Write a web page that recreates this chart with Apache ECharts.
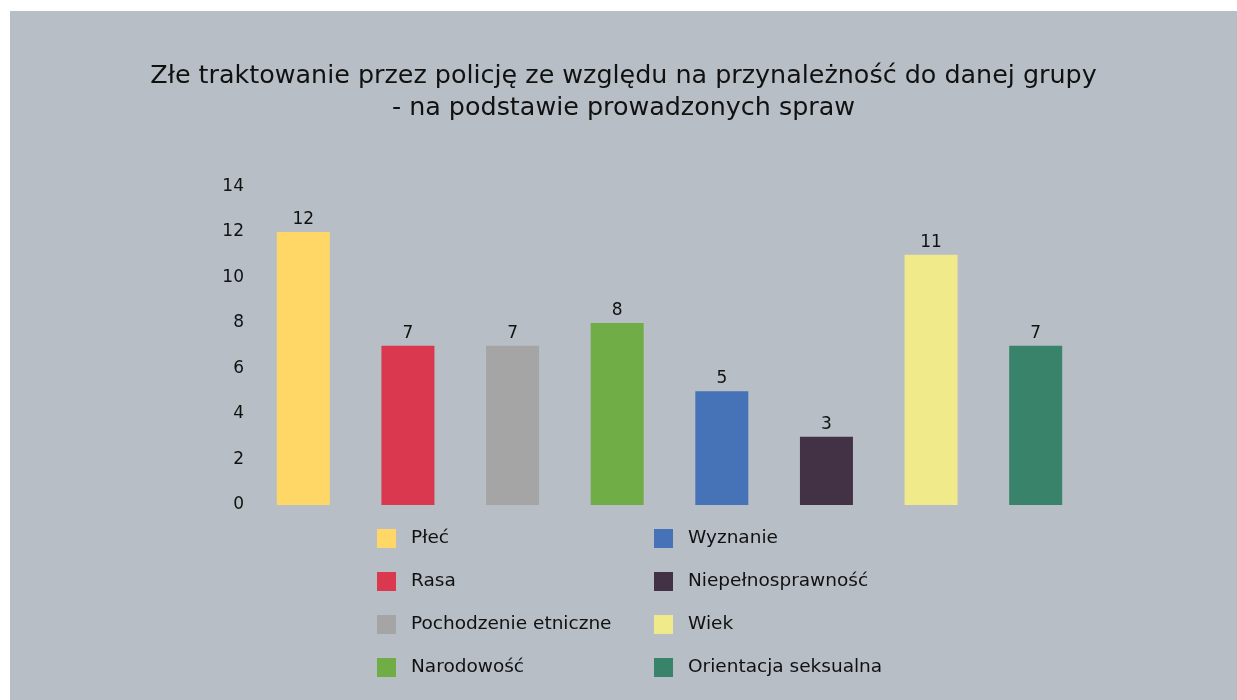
<!DOCTYPE html>
<html>
<head>
<meta charset="utf-8">
<script src="https://cdn.jsdelivr.net/npm/echarts@6/dist/echarts.min.js"></script>
<style>
  body { margin: 0; background: #fff; }
  #chart { position: absolute; left: 10px; top: 11px; width: 1227px; height: 689px; background: #b7bec6; }
</style>
</head>
<body>
<div id="chart"></div>
<script>
// dane
const categories = ['Płeć', 'Rasa', 'Pochodzenie etniczne', 'Narodowość', 'Wyznanie', 'Niepełnosprawność', 'Wiek', 'Orientacja seksualna']
const values = [12, 7, 7, 8, 5, 3, 11, 7]
const colors = ['#fed766', '#d9384f', '#a5a5a5', '#70ad47', '#4672b8', '#433246', '#f1ea8a', '#38836a']
const yTicks = [0, 2, 4, 6, 8, 10, 12, 14]

const font = 'DejaVu Sans'
const chart = echarts.init(document.getElementById('chart'))

// każda kategoria jako osobna seria, żeby legenda miała swoje pozycje
const series = categories.map((name, i) => ({
  name,
  type: 'bar',
  barWidth: 53,
  barGap: '-100%',
  itemStyle: { color: colors[i] },
  label: { show: true, position: 'top', distance: 4, color: '#111', fontSize: 17, fontFamily: font },
  data: values.map((v, j) => (j === i ? v : '-'))
}))

const legendBase = {
  orient: 'vertical',
  padding: 0,
  itemWidth: 19,
  itemHeight: 19,
  itemGap: 24,
  icon: 'rect',
  selectedMode: false,
  textStyle: { fontSize: 18.5, color: '#111', fontFamily: font, padding: [0, 0, 0, 10] }
}

chart.setOption({
  textStyle: { fontFamily: font },
  title: {
    text: 'Złe traktowanie przez policję ze względu na przynależność do danej grupy\n- na podstawie prowadzonych spraw',
    left: 'center',
    top: 44,
    textStyle: { fontSize: 25.4, fontWeight: 'normal', color: '#111', lineHeight: 32, fontFamily: font }
  },
  legend: [
    { ...legendBase, left: 367, top: 518, data: categories.slice(0, 4) },
    { ...legendBase, left: 644, top: 518, data: categories.slice(4) }
  ],
  grid: { left: 241, right: 149, top: 175.5, bottom: 195 },
  xAxis: {
    type: 'category',
    data: categories,
    axisLine: { show: false },
    axisTick: { show: false },
    axisLabel: { show: false }
  },
  yAxis: {
    type: 'value',
    min: yTicks[0],
    max: yTicks[yTicks.length - 1],
    interval: 2,
    splitLine: { show: false },
    axisLabel: { color: '#111', fontSize: 17, margin: 7, fontFamily: font }
  },
  series
})
</script>
</body>
</html>
